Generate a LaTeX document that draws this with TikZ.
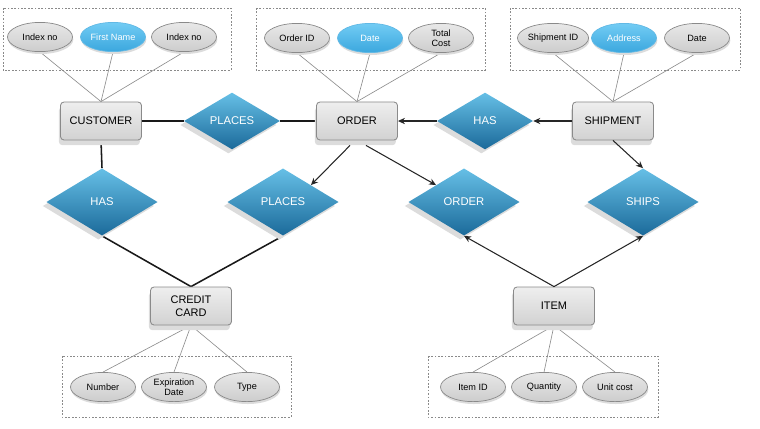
\documentclass[tikz,border=0pt]{standalone}
\usepackage{fontspec}
\setmainfont{Liberation Sans}
\usetikzlibrary{shapes.geometric,shadows,backgrounds,arrows.meta}

\definecolor{enttop}{HTML}{EEEEEE}
\definecolor{entbot}{HTML}{D2D2D2}
\definecolor{entline}{HTML}{8A8A8A}
\definecolor{reltop}{HTML}{66BFE6}
\definecolor{relbot}{HTML}{1B6A9A}
\definecolor{atttop}{HTML}{E8E8E8}
\definecolor{attbot}{HTML}{CDCDCD}
\definecolor{keytop}{HTML}{72CCF4}
\definecolor{keybot}{HTML}{3BA7DE}
\definecolor{shade}{HTML}{DCDCDC}

\tikzset{
  entity/.style={draw=entline, line width=0.6pt, rounded corners=2.5pt,
    top color=enttop, bottom color=entbot, align=center,
    minimum width=2.025cm, minimum height=0.95cm, inner sep=1pt,
    font=\fontsize{7.8}{9.2}\selectfont,
    drop shadow={shadow xshift=-0.04cm, shadow yshift=-0.13cm, fill=shade, opacity=1}},
  rel/.style={diamond, aspect=1.7, inner sep=0pt, draw=none,
    top color=reltop, bottom color=relbot, text=white,
    font=\fontsize{8}{9}\selectfont,
    drop shadow={shadow xshift=-0.09cm, shadow yshift=-0.1cm, fill=shade, opacity=1}},
  smallrel/.style={rel, minimum width=2.4cm, minimum height=1.42cm},
  bigrel/.style={rel, minimum width=2.78cm, minimum height=1.68cm},
  attr/.style={ellipse, draw=entline, line width=0.5pt,
    top color=atttop, bottom color=attbot, align=center,
    minimum width=1.625cm, minimum height=0.73cm, inner sep=0pt,
    font=\fontsize{6.5}{7.4}\selectfont,
    drop shadow={shadow xshift=0.02cm, shadow yshift=-0.06cm, fill=shade, opacity=1}},
  keyattr/.style={attr, draw=keybot!80!white, top color=keytop, bottom color=keybot, text=white},
  group/.style={draw=entline, line width=0.5pt, dash pattern=on 1.2pt off 1.2pt},
  link/.style={draw=black!45, line width=0.45pt},
  conn/.style={draw=black!90, line width=1.1pt},
  flow/.style={draw=black!85, line width=0.75pt, -{Stealth[length=5pt,width=4.5pt]}}
}

\begin{document}
\begin{tikzpicture}[x=0.025cm, y=-0.025cm]
\useasboundingbox (0,0) rectangle (760,428);

% attribute groups
\draw[group] (3,8) rectangle (231,70);
\draw[group] (256,8) rectangle (485,70);
\draw[group] (510,8) rectangle (740,70);
\draw[group] (62,356) rectangle (291,417);
\draw[group] (428,356) rectangle (658,417);

% attributes
\node[attr] (ci1) at (40,37) {Index no};
\node[keyattr] (ci2) at (113,37) {First Name};
\node[attr] (ci3) at (184,37) {Index no};
\node[attr] (oa1) at (297,38) {Order ID};
\node[keyattr] (oa2) at (370,38) {Date};
\node[attr] (oa3) at (441,38) {Total\\Cost};
\node[attr] (sa1) at (553,38) {Shipment ID};
\node[keyattr] (sa2) at (624,38) {Address};
\node[attr] (sa3) at (697,38) {Date};
\node[attr] (ca1) at (103,387) {Number};
\node[attr] (ca2) at (174,387) {Expiration\\Date};
\node[attr] (ca3) at (247,387) {Type};
\node[attr] (ia1) at (473,387) {Item ID};
\node[attr] (ia2) at (544,387) {Quantity};
\node[attr] (ia3) at (615,387) {Unit cost};

% entities
\node[entity] (cus) at (101,121) {CUSTOMER};
\node[entity] (ord) at (357,121) {ORDER};
\node[entity] (shp) at (613,121) {SHIPMENT};
\node[entity] (cc) at (191,306) {CREDIT\\CARD};
\node[entity] (itm) at (554,306) {ITEM};

% relationships
\node[smallrel] (pl1) at (232,121) {PLACES};
\node[smallrel] (has1) at (485,121) {HAS};
\node[bigrel] (has2) at (102,202) {HAS};
\node[bigrel] (pl2) at (283,202) {PLACES};
\node[bigrel] (od) at (464,202) {ORDER};
\node[bigrel] (sh) at (643,202) {SHIPS};

\begin{scope}[on background layer]
\foreach \a in {ci1,ci2,ci3} \draw[link] (\a.south) -- (cus.north);
\foreach \a in {oa1,oa2,oa3} \draw[link] (\a.south) -- (ord.north);
\foreach \a in {sa1,sa2,sa3} \draw[link] (\a.south) -- (shp.north);
\foreach \a in {ca1,ca2,ca3} \draw[link] (cc.south) -- (\a.north);
\foreach \a in {ia1,ia2,ia3} \draw[link] (itm.south) -- (\a.north);

\draw[conn] (cus.east) -- (pl1.west);
\draw[conn] (pl1.east) -- (ord.west);
\draw[conn] (cus.south) -- (has2.north);
\draw[conn] (has2.south) -- (cc.north);
\draw[conn] (pl2.south) -- (cc.north);
\end{scope}

\draw[flow] (shp.west) -- (has1.east);
\draw[flow] (has1.west) -- (ord.east);
\draw[flow] ([shift={(-7,5)}]ord.south) -- (pl2.north east);
\draw[flow] ([shift={(9,5)}]ord.south) -- (od.north west);
\draw[flow] (shp.south) -- (sh.north);
\draw[flow] (itm.north) -- (od.south);
\draw[flow] (itm.north) -- (sh.south);
\end{tikzpicture}
\end{document}
